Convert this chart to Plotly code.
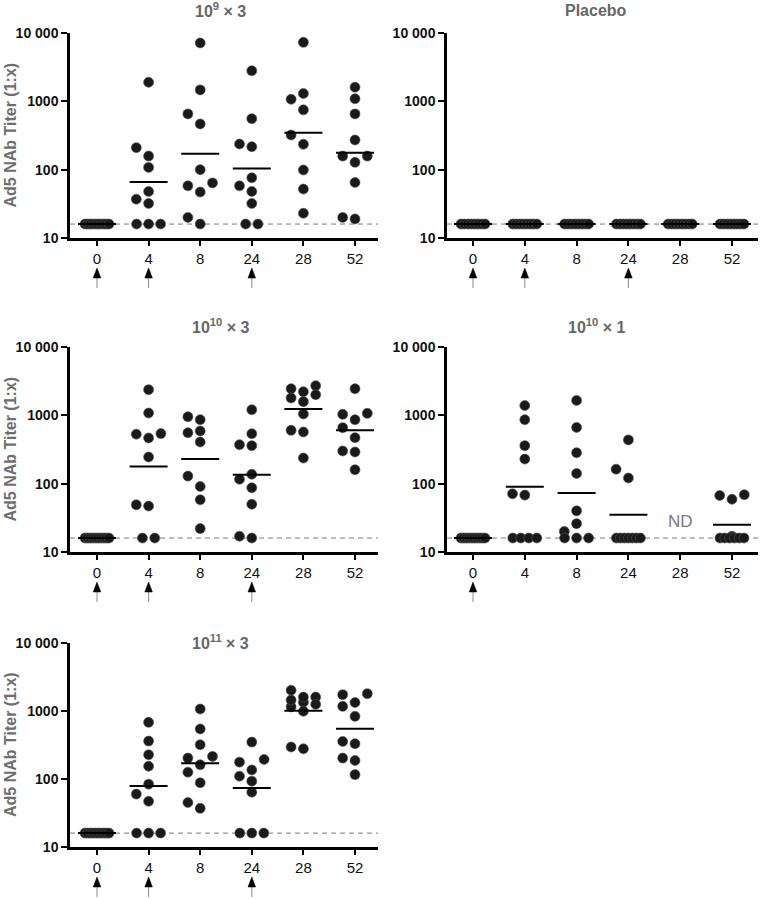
import numpy as np
import plotly.graph_objects as go

W, H = 760, 899

# ---------------- data ----------------
weeks = ["0", "4", "8", "24", "28", "52"]
LOD = 16
y_tickvals = [10, 100, 1000, 10000]
y_ticktext = ["10", "100", "1000", "10 000"]

titer_1e9x3 = [
    [16, 16, 16, 16, 16, 16, 16, 16, 16, 16],
    [1900, 210, 158, 108, 48, 37, 32, 16, 16, 16],
    [7150, 1470, 655, 467, 100, 58, 64, 47, 20, 16],
    [2800, 558, 237, 217, 76, 58, 48, 32, 16, 16],
    [7300, 1300, 1070, 750, 322, 235, 99, 52, 23],
    [1610, 1090, 655, 272, 158, 158, 128, 65, 19, 20],
]
gmt_1e9x3 = [16, 66, 171, 104, 348, 177]
dose_1e9x3 = ["0", "4", "24"]

titer_placebo = [
    [16, 16, 16, 16, 16, 16, 16, 16],
    [16, 16, 16, 16, 16, 16, 16, 16],
    [16, 16, 16, 16, 16, 16, 16, 16],
    [16, 16, 16, 16, 16, 16, 16, 16],
    [16, 16, 16, 16, 16, 16, 16, 16],
    [16, 16, 16, 16, 16, 16, 16, 16],
]
gmt_placebo = [16, 16, 16, 16, 16, 16]
dose_placebo = ["0", "4", "24"]

titer_1e10x3 = [
    [16, 16, 16, 16, 16, 16, 16, 16, 16, 16],
    [2375, 1080, 540, 530, 466, 245, 49, 47, 16, 16],
    [955, 864, 557, 590, 407, 129, 91, 58, 22],
    [1210, 539, 360, 372, 137, 116, 87, 50, 17, 16],
    [2716, 2455, 2005, 2218, 1795, 1585, 1046, 603, 570, 237],
    [2455, 1034, 1069, 864, 660, 471, 301, 291, 160],
]
gmt_1e10x3 = [16, 179, 230, 135, 1239, 603]
dose_1e10x3 = ["0", "4", "24"]

titer_1e10x1 = [
    [16, 16, 16, 16, 16, 16, 16, 16, 16, 16],
    [1390, 863, 360, 229, 71, 68, 16, 16, 16, 16],
    [1650, 665, 284, 141, 40, 26, 20, 16, 16, 16],
    [437, 163, 121, 16, 16, 16, 16, 16, 16, 16],
    [],
    [67, 59, 69, 17, 16, 16, 16, 16, 16, 16],
]
gmt_1e10x1 = [16, 90, 73, 35, None, 25]
dose_1e10x1 = ["0"]
nd_1e10x1 = ["28"]

titer_1e11x3 = [
    [16, 16, 16, 16, 16, 16, 16, 16, 16, 16],
    [681, 361, 227, 154, 84, 60, 47, 16, 16, 16],
    [1070, 543, 319, 215, 203, 162, 126, 88, 45, 37],
    [349, 194, 177, 136, 110, 93, 64, 16, 16, 16],
    [2017, 1342, 1150, 1600, 1450, 1600, 1254, 990, 278, 295],
    [1800, 1740, 1330, 1170, 834, 357, 330, 203, 187, 116],
]
gmt_1e11x3 = [16, 79, 171, 74, 1010, 549]
dose_1e11x3 = ["0", "4", "24"]

titles = ["10<sup>9</sup> × 3", "Placebo", "10<sup>10</sup> × 3", "10<sup>10</sup> × 1", "10<sup>11</sup> × 3"]
y_title = "Ad5 NAb Titer (1:x)"

# ---------------- layout geometry (pixels) ----------------
FONT = "Liberation Sans, Arial, Helvetica, sans-serif"
cols = {0: dict(x0=70, x1=378, cat0=97, unit=51.6), 1: dict(x0=447, x1=758, cat0=473, unit=51.8)}
rows = {0: dict(top=33, bot=238, title_y=10), 1: dict(top=347, bot=552, title_y=326),
        2: dict(top=643, bot=847, title_y=642)}
title_x = {0: 220, 1: 596}

panels = [
    dict(data=titer_1e9x3, gmt=gmt_1e9x3, dose=dose_1e9x3, nd=[], r=0, c=0),
    dict(data=titer_placebo, gmt=gmt_placebo, dose=dose_placebo, nd=[], r=0, c=1),
    dict(data=titer_1e10x3, gmt=gmt_1e10x3, dose=dose_1e10x3, nd=[], r=1, c=0),
    dict(data=titer_1e10x1, gmt=gmt_1e10x1, dose=dose_1e10x1, nd=nd_1e10x1, r=1, c=1),
    dict(data=titer_1e11x3, gmt=gmt_1e11x3, dose=dose_1e11x3, nd=[], r=2, c=0),
]


def pxx(p):
    return p / W


def pxy(p):
    return 1 - p / H


def swarm(values, decade_px, unit_px):
    """Deterministic beeswarm: returns x offsets (in category units)."""
    s, d, wmax = 12.3, 11.0, 12.0
    offs = [0.0] * len(values)
    placed = []
    lod_idx = [i for i, v in enumerate(values) if v == LOD]
    n = len(lod_idx)
    if n:
        half = min((n - 1) * s / 2, wmax)
        xs = np.linspace(-half, half, n) if n > 1 else [0.0]
        for i, xo in zip(lod_idx, xs):
            offs[i] = xo
            placed.append((xo, np.log10(LOD) * decade_px))
    rest = sorted([i for i, v in enumerate(values) if v != LOD], key=lambda i: values[i])
    for i in rest:
        y = np.log10(values[i]) * decade_px
        best, bestd = 0.0, -1
        for c in [0.0, -s, s]:
            md = min([np.hypot(c - px, y - py) for px, py in placed] or [99])
            if md >= d:
                best = c
                break
            if md > bestd:
                best, bestd = c, md
        offs[i] = best
        placed.append((best, y))
    return [o / unit_px for o in offs]


fig = go.Figure()
shapes, annotations = [], []
layout_axes = {}

for k, p in enumerate(panels, start=1):
    col, row = cols[p["c"]], rows[p["r"]]
    xa, ya = ("x" if k == 1 else f"x{k}"), ("y" if k == 1 else f"y{k}")
    xlo = -(col["cat0"] - col["x0"]) / col["unit"]
    xhi = xlo + (col["x1"] - col["x0"]) / col["unit"]
    decade_px = (row["bot"] - row["top"]) / 3.0

    layout_axes["xaxis" if k == 1 else f"xaxis{k}"] = dict(
        domain=[pxx(col["x0"]), pxx(col["x1"])], anchor=ya, range=[xlo, xhi], automargin=False,
        tickvals=list(range(len(weeks))), ticktext=weeks, showline=True, linecolor="black",
        linewidth=2.5, ticks="outside", ticklen=5, tickwidth=2, tickcolor="black",
        showgrid=False, zeroline=False, tickfont=dict(family=FONT, size=15, color="#111"))
    layout_axes["yaxis" if k == 1 else f"yaxis{k}"] = dict(
        domain=[pxy(row["bot"]), pxy(row["top"])], anchor=xa, type="log", range=[1, 4],
        automargin=False,
        tickvals=y_tickvals, ticktext=y_ticktext, showline=True, linecolor="black",
        linewidth=2.5, ticks="outside", ticklen=6, tickwidth=2, tickcolor="black",
        showgrid=False, zeroline=False,
        tickfont=dict(family=FONT, size=14, color="#111", weight=700))

    # LOD dashed line
    fig.add_trace(go.Scatter(x=[xlo, xhi], y=[LOD, LOD], mode="lines", xaxis=xa, yaxis=ya,
                             line=dict(color="#7a7a7a", width=1, dash="5px,4px"),
                             showlegend=False, hoverinfo="skip"))
    # dots
    xs, ys = [], []
    for ci, vals in enumerate(p["data"]):
        if not vals:
            continue
        for o, v in zip(swarm(vals, decade_px, col["unit"]), vals):
            xs.append(ci + o)
            ys.append(v)
    fig.add_trace(go.Scatter(x=xs, y=ys, mode="markers", xaxis=xa, yaxis=ya,
                             marker=dict(size=10, color="#1a1a1a", line=dict(color="#555", width=0.6)),
                             showlegend=False, cliponaxis=False))
    # geometric mean lines
    hw = 19 / col["unit"]
    gx, gy = [], []
    for ci, g in enumerate(p["gmt"]):
        if g is None:
            continue
        gx += [ci - hw, ci + hw, None]
        gy += [g, g, None]
    fig.add_trace(go.Scatter(x=gx, y=gy, mode="lines", xaxis=xa, yaxis=ya,
                             line=dict(color="black", width=2), showlegend=False, hoverinfo="skip"))
    # vaccination arrows
    ah = 3.8 / col["unit"]
    for wk in p["dose"]:
        cx = weeks.index(wk)
        tip, base, end = pxy(row["bot"] + 30), pxy(row["bot"] + 40), pxy(row["bot"] + 50)
        shapes.append(dict(type="line", xref=xa, yref="paper", x0=cx, x1=cx, y0=base, y1=end,
                           line=dict(color="#8a8a8a", width=1)))
        shapes.append(dict(type="path", xref=xa, yref="paper",
                           path=f"M {cx - ah},{base} L {cx + ah},{base} L {cx},{tip} Z",
                           fillcolor="black", line=dict(color="black", width=0.5)))
    # ND labels
    for wk in p["nd"]:
        annotations.append(dict(x=weeks.index(wk), y=pxy(row["bot"] - 31), xref=xa, yref="paper",
                                text="ND", showarrow=False, xanchor="center", yanchor="middle",
                                font=dict(family=FONT, size=17, color="#7a7a7a")))
    # panel title
    annotations.append(dict(x=pxx(title_x[p["c"]]), y=pxy(row["title_y"]), xref="paper", yref="paper",
                            text=titles[k - 1], showarrow=False, xanchor="center", yanchor="middle",
                            font=dict(family=FONT, size=16, color="#666", weight=700)))
    # y axis title (left column only)
    if p["c"] == 0:
        annotations.append(dict(x=pxx(10), y=pxy((row["top"] + row["bot"]) / 2), xref="paper",
                                yref="paper", text=y_title, textangle=-90, showarrow=False,
                                xanchor="center", yanchor="middle",
                                font=dict(family=FONT, size=16, color="#6e6e6e", weight=700)))

fig.update_layout(width=W, height=H, margin=dict(l=0, r=0, t=0, b=0, pad=0, autoexpand=False),
                  paper_bgcolor="white", plot_bgcolor="white", showlegend=False,
                  shapes=shapes, annotations=annotations, **layout_axes)

fig.write_html("out.html", config={"displayModeBar": False},
               post_script="document.body.style.margin='0px';document.body.style.overflow='hidden';")
